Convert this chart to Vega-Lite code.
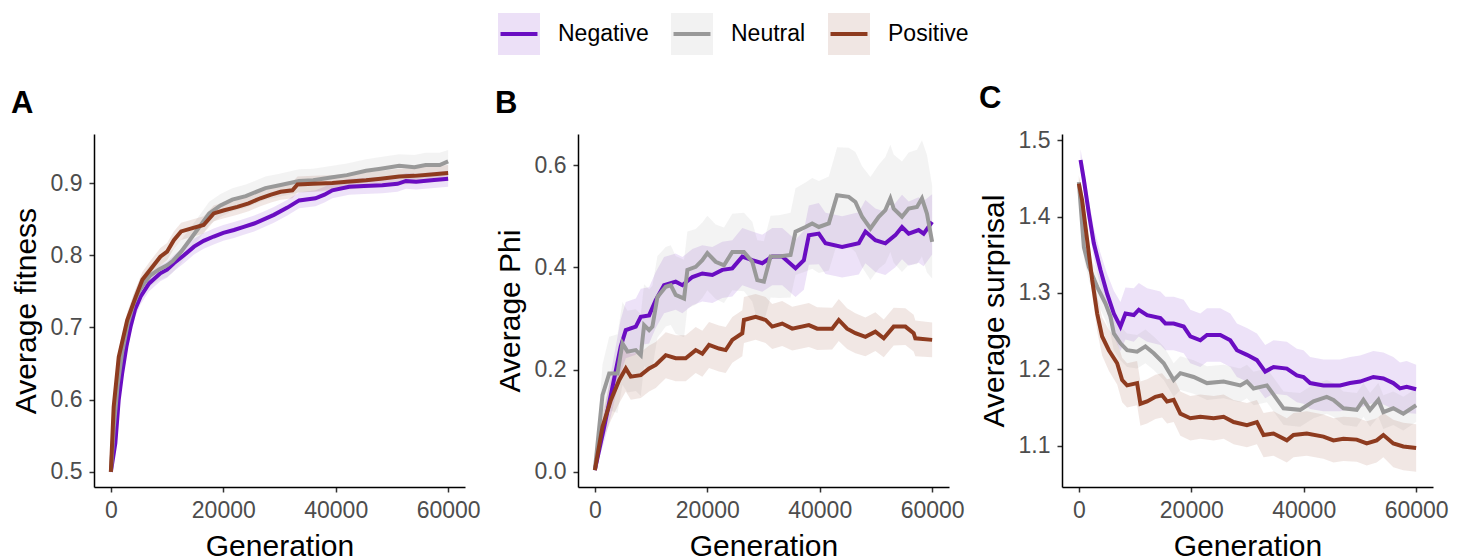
{
  "$schema": "https://vega.github.io/schema/vega-lite/v6.json",
  "background": "white",
  "padding": {"left": 11, "top": 11, "right": 10, "bottom": 0},
  "config": {
    "font": "Liberation Sans",
    "view": {"stroke": null},
    "axis": {
      "grid": false,
      "domainColor": "#000000",
      "domainWidth": 1.5,
      "tickColor": "#333333",
      "tickWidth": 1.5,
      "tickSize": 5,
      "labelFont": "Liberation Sans",
      "labelFontSize": 23,
      "labelColor": "#4D4D4D",
      "labelPadding": 7,
      "titleFont": "Liberation Sans",
      "titleFontSize": 30,
      "titleFontWeight": "normal",
      "titleColor": "#000000",
      "titlePadding": 9
    },
    "legend": {
      "labelFont": "Liberation Sans",
      "labelFontSize": 23,
      "labelColor": "#000000"
    }
  },
  "spacing": 14,
  "data": {
    "values": [
      {"p":"A","g":"Negative","x":0,"y":0.500,"lo":0.497,"hi":0.503},
      {"p":"A","g":"Negative","x":800,"y":0.540,"lo":0.530,"hi":0.550},
      {"p":"A","g":"Negative","x":1400,"y":0.600,"lo":0.588,"hi":0.612},
      {"p":"A","g":"Negative","x":2000,"y":0.636,"lo":0.624,"hi":0.648},
      {"p":"A","g":"Negative","x":2800,"y":0.675,"lo":0.663,"hi":0.687},
      {"p":"A","g":"Negative","x":3500,"y":0.701,"lo":0.690,"hi":0.712},
      {"p":"A","g":"Negative","x":4300,"y":0.725,"lo":0.714,"hi":0.736},
      {"p":"A","g":"Negative","x":5300,"y":0.743,"lo":0.732,"hi":0.754},
      {"p":"A","g":"Negative","x":6800,"y":0.761,"lo":0.750,"hi":0.772},
      {"p":"A","g":"Negative","x":8800,"y":0.775,"lo":0.764,"hi":0.786},
      {"p":"A","g":"Negative","x":10000,"y":0.780,"lo":0.769,"hi":0.791},
      {"p":"A","g":"Negative","x":11200,"y":0.789,"lo":0.778,"hi":0.800},
      {"p":"A","g":"Negative","x":13000,"y":0.800,"lo":0.789,"hi":0.811},
      {"p":"A","g":"Negative","x":14800,"y":0.812,"lo":0.801,"hi":0.823},
      {"p":"A","g":"Negative","x":16500,"y":0.820,"lo":0.809,"hi":0.831},
      {"p":"A","g":"Negative","x":18300,"y":0.826,"lo":0.815,"hi":0.837},
      {"p":"A","g":"Negative","x":20000,"y":0.831,"lo":0.820,"hi":0.842},
      {"p":"A","g":"Negative","x":21900,"y":0.835,"lo":0.824,"hi":0.846},
      {"p":"A","g":"Negative","x":23500,"y":0.839,"lo":0.828,"hi":0.850},
      {"p":"A","g":"Negative","x":25500,"y":0.844,"lo":0.833,"hi":0.855},
      {"p":"A","g":"Negative","x":27000,"y":0.849,"lo":0.838,"hi":0.860},
      {"p":"A","g":"Negative","x":29000,"y":0.856,"lo":0.845,"hi":0.867},
      {"p":"A","g":"Negative","x":31400,"y":0.866,"lo":0.855,"hi":0.877},
      {"p":"A","g":"Negative","x":33500,"y":0.876,"lo":0.865,"hi":0.887},
      {"p":"A","g":"Negative","x":36400,"y":0.879,"lo":0.868,"hi":0.890},
      {"p":"A","g":"Negative","x":38000,"y":0.884,"lo":0.873,"hi":0.895},
      {"p":"A","g":"Negative","x":39400,"y":0.890,"lo":0.879,"hi":0.901},
      {"p":"A","g":"Negative","x":42400,"y":0.895,"lo":0.884,"hi":0.906},
      {"p":"A","g":"Negative","x":45000,"y":0.896,"lo":0.885,"hi":0.907},
      {"p":"A","g":"Negative","x":48300,"y":0.897,"lo":0.886,"hi":0.908},
      {"p":"A","g":"Negative","x":51000,"y":0.899,"lo":0.888,"hi":0.910},
      {"p":"A","g":"Negative","x":52500,"y":0.903,"lo":0.892,"hi":0.914},
      {"p":"A","g":"Negative","x":54300,"y":0.902,"lo":0.891,"hi":0.913},
      {"p":"A","g":"Negative","x":57000,"y":0.904,"lo":0.893,"hi":0.915},
      {"p":"A","g":"Negative","x":60000,"y":0.906,"lo":0.895,"hi":0.917},

      {"p":"A","g":"Neutral","x":0,"y":0.500,"lo":0.496,"hi":0.504},
      {"p":"A","g":"Neutral","x":500,"y":0.560,"lo":0.548,"hi":0.572},
      {"p":"A","g":"Neutral","x":1200,"y":0.620,"lo":0.606,"hi":0.634},
      {"p":"A","g":"Neutral","x":2000,"y":0.665,"lo":0.651,"hi":0.679},
      {"p":"A","g":"Neutral","x":3000,"y":0.705,"lo":0.691,"hi":0.719},
      {"p":"A","g":"Neutral","x":4000,"y":0.732,"lo":0.718,"hi":0.746},
      {"p":"A","g":"Neutral","x":5000,"y":0.750,"lo":0.736,"hi":0.764},
      {"p":"A","g":"Neutral","x":6000,"y":0.762,"lo":0.748,"hi":0.776},
      {"p":"A","g":"Neutral","x":7000,"y":0.772,"lo":0.757,"hi":0.787},
      {"p":"A","g":"Neutral","x":8500,"y":0.780,"lo":0.765,"hi":0.795},
      {"p":"A","g":"Neutral","x":10000,"y":0.786,"lo":0.770,"hi":0.802},
      {"p":"A","g":"Neutral","x":11000,"y":0.792,"lo":0.776,"hi":0.808},
      {"p":"A","g":"Neutral","x":12500,"y":0.805,"lo":0.789,"hi":0.821},
      {"p":"A","g":"Neutral","x":14500,"y":0.826,"lo":0.810,"hi":0.842},
      {"p":"A","g":"Neutral","x":16000,"y":0.842,"lo":0.826,"hi":0.858},
      {"p":"A","g":"Neutral","x":17500,"y":0.858,"lo":0.842,"hi":0.874},
      {"p":"A","g":"Neutral","x":19500,"y":0.869,"lo":0.853,"hi":0.885},
      {"p":"A","g":"Neutral","x":21600,"y":0.877,"lo":0.861,"hi":0.893},
      {"p":"A","g":"Neutral","x":24000,"y":0.882,"lo":0.866,"hi":0.898},
      {"p":"A","g":"Neutral","x":27500,"y":0.893,"lo":0.877,"hi":0.909},
      {"p":"A","g":"Neutral","x":30000,"y":0.897,"lo":0.881,"hi":0.913},
      {"p":"A","g":"Neutral","x":33500,"y":0.903,"lo":0.887,"hi":0.919},
      {"p":"A","g":"Neutral","x":36000,"y":0.904,"lo":0.888,"hi":0.920},
      {"p":"A","g":"Neutral","x":39400,"y":0.908,"lo":0.892,"hi":0.924},
      {"p":"A","g":"Neutral","x":42000,"y":0.911,"lo":0.895,"hi":0.927},
      {"p":"A","g":"Neutral","x":45400,"y":0.917,"lo":0.901,"hi":0.933},
      {"p":"A","g":"Neutral","x":48000,"y":0.920,"lo":0.904,"hi":0.936},
      {"p":"A","g":"Neutral","x":51300,"y":0.924,"lo":0.908,"hi":0.940},
      {"p":"A","g":"Neutral","x":54000,"y":0.922,"lo":0.905,"hi":0.939},
      {"p":"A","g":"Neutral","x":56000,"y":0.925,"lo":0.908,"hi":0.942},
      {"p":"A","g":"Neutral","x":58500,"y":0.925,"lo":0.908,"hi":0.942},
      {"p":"A","g":"Neutral","x":60000,"y":0.930,"lo":0.913,"hi":0.946},

      {"p":"A","g":"Positive","x":0,"y":0.500,"lo":0.497,"hi":0.503},
      {"p":"A","g":"Positive","x":500,"y":0.590,"lo":0.580,"hi":0.600},
      {"p":"A","g":"Positive","x":1400,"y":0.659,"lo":0.648,"hi":0.670},
      {"p":"A","g":"Positive","x":2900,"y":0.710,"lo":0.699,"hi":0.721},
      {"p":"A","g":"Positive","x":4400,"y":0.742,"lo":0.731,"hi":0.753},
      {"p":"A","g":"Positive","x":5600,"y":0.766,"lo":0.755,"hi":0.777},
      {"p":"A","g":"Positive","x":7000,"y":0.780,"lo":0.768,"hi":0.792},
      {"p":"A","g":"Positive","x":8800,"y":0.798,"lo":0.786,"hi":0.810},
      {"p":"A","g":"Positive","x":10000,"y":0.805,"lo":0.793,"hi":0.817},
      {"p":"A","g":"Positive","x":11200,"y":0.821,"lo":0.809,"hi":0.833},
      {"p":"A","g":"Positive","x":12500,"y":0.833,"lo":0.821,"hi":0.845},
      {"p":"A","g":"Positive","x":14200,"y":0.837,"lo":0.825,"hi":0.849},
      {"p":"A","g":"Positive","x":16500,"y":0.842,"lo":0.830,"hi":0.854},
      {"p":"A","g":"Positive","x":18300,"y":0.858,"lo":0.847,"hi":0.869},
      {"p":"A","g":"Positive","x":20000,"y":0.862,"lo":0.851,"hi":0.873},
      {"p":"A","g":"Positive","x":22500,"y":0.867,"lo":0.856,"hi":0.878},
      {"p":"A","g":"Positive","x":24500,"y":0.872,"lo":0.861,"hi":0.883},
      {"p":"A","g":"Positive","x":26600,"y":0.879,"lo":0.868,"hi":0.890},
      {"p":"A","g":"Positive","x":28500,"y":0.884,"lo":0.873,"hi":0.895},
      {"p":"A","g":"Positive","x":30200,"y":0.888,"lo":0.877,"hi":0.899},
      {"p":"A","g":"Positive","x":32300,"y":0.890,"lo":0.879,"hi":0.901},
      {"p":"A","g":"Positive","x":33200,"y":0.898,"lo":0.887,"hi":0.909},
      {"p":"A","g":"Positive","x":36000,"y":0.899,"lo":0.888,"hi":0.910},
      {"p":"A","g":"Positive","x":39400,"y":0.900,"lo":0.889,"hi":0.911},
      {"p":"A","g":"Positive","x":42000,"y":0.902,"lo":0.891,"hi":0.913},
      {"p":"A","g":"Positive","x":45400,"y":0.904,"lo":0.893,"hi":0.915},
      {"p":"A","g":"Positive","x":48000,"y":0.906,"lo":0.895,"hi":0.917},
      {"p":"A","g":"Positive","x":51300,"y":0.909,"lo":0.898,"hi":0.920},
      {"p":"A","g":"Positive","x":54000,"y":0.910,"lo":0.899,"hi":0.921},
      {"p":"A","g":"Positive","x":57000,"y":0.912,"lo":0.901,"hi":0.923},
      {"p":"A","g":"Positive","x":60000,"y":0.914,"lo":0.903,"hi":0.925},

      {"p":"B","g":"Negative","x":0,"y":0.003,"lo":0.000,"hi":0.006},
      {"p":"B","g":"Negative","x":1660,"y":0.088,"lo":0.058,"hi":0.118},
      {"p":"B","g":"Negative","x":3140,"y":0.166,"lo":0.121,"hi":0.211},
      {"p":"B","g":"Negative","x":4600,"y":0.245,"lo":0.192,"hi":0.298},
      {"p":"B","g":"Negative","x":5500,"y":0.277,"lo":0.222,"hi":0.332},
      {"p":"B","g":"Negative","x":7280,"y":0.284,"lo":0.229,"hi":0.339},
      {"p":"B","g":"Negative","x":8170,"y":0.303,"lo":0.248,"hi":0.358},
      {"p":"B","g":"Negative","x":9650,"y":0.306,"lo":0.251,"hi":0.361},
      {"p":"B","g":"Negative","x":10830,"y":0.336,"lo":0.281,"hi":0.391},
      {"p":"B","g":"Negative","x":12310,"y":0.365,"lo":0.310,"hi":0.420},
      {"p":"B","g":"Negative","x":14380,"y":0.372,"lo":0.317,"hi":0.427},
      {"p":"B","g":"Negative","x":15570,"y":0.365,"lo":0.310,"hi":0.420},
      {"p":"B","g":"Negative","x":17350,"y":0.381,"lo":0.326,"hi":0.436},
      {"p":"B","g":"Negative","x":19120,"y":0.388,"lo":0.333,"hi":0.443},
      {"p":"B","g":"Negative","x":20900,"y":0.385,"lo":0.330,"hi":0.440},
      {"p":"B","g":"Negative","x":22670,"y":0.395,"lo":0.340,"hi":0.450},
      {"p":"B","g":"Negative","x":24450,"y":0.398,"lo":0.343,"hi":0.453},
      {"p":"B","g":"Negative","x":26230,"y":0.421,"lo":0.365,"hi":0.477},
      {"p":"B","g":"Negative","x":28000,"y":0.414,"lo":0.358,"hi":0.470},
      {"p":"B","g":"Negative","x":29780,"y":0.408,"lo":0.352,"hi":0.464},
      {"p":"B","g":"Negative","x":31550,"y":0.421,"lo":0.365,"hi":0.477},
      {"p":"B","g":"Negative","x":33330,"y":0.421,"lo":0.365,"hi":0.477},
      {"p":"B","g":"Negative","x":35700,"y":0.398,"lo":0.342,"hi":0.454},
      {"p":"B","g":"Negative","x":37180,"y":0.414,"lo":0.356,"hi":0.472},
      {"p":"B","g":"Negative","x":38070,"y":0.463,"lo":0.405,"hi":0.521},
      {"p":"B","g":"Negative","x":39840,"y":0.466,"lo":0.406,"hi":0.526},
      {"p":"B","g":"Negative","x":41030,"y":0.447,"lo":0.387,"hi":0.507},
      {"p":"B","g":"Negative","x":43990,"y":0.440,"lo":0.380,"hi":0.500},
      {"p":"B","g":"Negative","x":46950,"y":0.447,"lo":0.386,"hi":0.508},
      {"p":"B","g":"Negative","x":48130,"y":0.470,"lo":0.408,"hi":0.532},
      {"p":"B","g":"Negative","x":49900,"y":0.453,"lo":0.391,"hi":0.515},
      {"p":"B","g":"Negative","x":51680,"y":0.447,"lo":0.385,"hi":0.509},
      {"p":"B","g":"Negative","x":53460,"y":0.463,"lo":0.400,"hi":0.526},
      {"p":"B","g":"Negative","x":54640,"y":0.479,"lo":0.416,"hi":0.542},
      {"p":"B","g":"Negative","x":55830,"y":0.466,"lo":0.403,"hi":0.529},
      {"p":"B","g":"Negative","x":57600,"y":0.473,"lo":0.409,"hi":0.537},
      {"p":"B","g":"Negative","x":58490,"y":0.466,"lo":0.402,"hi":0.530},
      {"p":"B","g":"Negative","x":60000,"y":0.489,"lo":0.425,"hi":0.543},

      {"p":"B","g":"Neutral","x":0,"y":0.003,"lo":0.000,"hi":0.006},
      {"p":"B","g":"Neutral","x":1360,"y":0.150,"lo":0.090,"hi":0.210},
      {"p":"B","g":"Neutral","x":2550,"y":0.192,"lo":0.120,"hi":0.264},
      {"p":"B","g":"Neutral","x":4030,"y":0.192,"lo":0.115,"hi":0.269},
      {"p":"B","g":"Neutral","x":4910,"y":0.251,"lo":0.170,"hi":0.332},
      {"p":"B","g":"Neutral","x":5800,"y":0.235,"lo":0.155,"hi":0.315},
      {"p":"B","g":"Neutral","x":7280,"y":0.238,"lo":0.158,"hi":0.318},
      {"p":"B","g":"Neutral","x":8170,"y":0.228,"lo":0.148,"hi":0.308},
      {"p":"B","g":"Neutral","x":8760,"y":0.287,"lo":0.207,"hi":0.367},
      {"p":"B","g":"Neutral","x":9650,"y":0.277,"lo":0.197,"hi":0.357},
      {"p":"B","g":"Neutral","x":10240,"y":0.284,"lo":0.204,"hi":0.364},
      {"p":"B","g":"Neutral","x":11130,"y":0.342,"lo":0.262,"hi":0.422},
      {"p":"B","g":"Neutral","x":12610,"y":0.362,"lo":0.284,"hi":0.440},
      {"p":"B","g":"Neutral","x":13500,"y":0.365,"lo":0.287,"hi":0.443},
      {"p":"B","g":"Neutral","x":14380,"y":0.346,"lo":0.270,"hi":0.422},
      {"p":"B","g":"Neutral","x":15870,"y":0.339,"lo":0.263,"hi":0.415},
      {"p":"B","g":"Neutral","x":16460,"y":0.395,"lo":0.320,"hi":0.470},
      {"p":"B","g":"Neutral","x":17940,"y":0.401,"lo":0.327,"hi":0.475},
      {"p":"B","g":"Neutral","x":19120,"y":0.414,"lo":0.340,"hi":0.488},
      {"p":"B","g":"Neutral","x":20010,"y":0.428,"lo":0.355,"hi":0.501},
      {"p":"B","g":"Neutral","x":21490,"y":0.411,"lo":0.338,"hi":0.484},
      {"p":"B","g":"Neutral","x":22970,"y":0.404,"lo":0.330,"hi":0.478},
      {"p":"B","g":"Neutral","x":24450,"y":0.430,"lo":0.355,"hi":0.505},
      {"p":"B","g":"Neutral","x":26520,"y":0.430,"lo":0.353,"hi":0.507},
      {"p":"B","g":"Neutral","x":28000,"y":0.411,"lo":0.333,"hi":0.489},
      {"p":"B","g":"Neutral","x":28890,"y":0.375,"lo":0.297,"hi":0.453},
      {"p":"B","g":"Neutral","x":30070,"y":0.372,"lo":0.293,"hi":0.451},
      {"p":"B","g":"Neutral","x":31260,"y":0.421,"lo":0.341,"hi":0.501},
      {"p":"B","g":"Neutral","x":32740,"y":0.421,"lo":0.340,"hi":0.502},
      {"p":"B","g":"Neutral","x":34810,"y":0.424,"lo":0.341,"hi":0.507},
      {"p":"B","g":"Neutral","x":35700,"y":0.470,"lo":0.385,"hi":0.555},
      {"p":"B","g":"Neutral","x":37470,"y":0.479,"lo":0.392,"hi":0.566},
      {"p":"B","g":"Neutral","x":38660,"y":0.486,"lo":0.397,"hi":0.575},
      {"p":"B","g":"Neutral","x":39840,"y":0.479,"lo":0.389,"hi":0.569},
      {"p":"B","g":"Neutral","x":41620,"y":0.486,"lo":0.394,"hi":0.578},
      {"p":"B","g":"Neutral","x":43100,"y":0.541,"lo":0.447,"hi":0.635},
      {"p":"B","g":"Neutral","x":45170,"y":0.538,"lo":0.442,"hi":0.634},
      {"p":"B","g":"Neutral","x":46350,"y":0.528,"lo":0.430,"hi":0.626},
      {"p":"B","g":"Neutral","x":47540,"y":0.499,"lo":0.400,"hi":0.598},
      {"p":"B","g":"Neutral","x":49020,"y":0.476,"lo":0.375,"hi":0.577},
      {"p":"B","g":"Neutral","x":50500,"y":0.499,"lo":0.397,"hi":0.601},
      {"p":"B","g":"Neutral","x":51680,"y":0.512,"lo":0.408,"hi":0.616},
      {"p":"B","g":"Neutral","x":52570,"y":0.535,"lo":0.430,"hi":0.640},
      {"p":"B","g":"Neutral","x":53160,"y":0.515,"lo":0.409,"hi":0.621},
      {"p":"B","g":"Neutral","x":54640,"y":0.499,"lo":0.391,"hi":0.607},
      {"p":"B","g":"Neutral","x":55830,"y":0.515,"lo":0.405,"hi":0.625},
      {"p":"B","g":"Neutral","x":57300,"y":0.518,"lo":0.406,"hi":0.630},
      {"p":"B","g":"Neutral","x":58190,"y":0.535,"lo":0.421,"hi":0.649},
      {"p":"B","g":"Neutral","x":59080,"y":0.505,"lo":0.390,"hi":0.620},
      {"p":"B","g":"Neutral","x":60000,"y":0.450,"lo":0.378,"hi":0.560},

      {"p":"B","g":"Positive","x":0,"y":0.003,"lo":0.000,"hi":0.006},
      {"p":"B","g":"Positive","x":1360,"y":0.088,"lo":0.060,"hi":0.116},
      {"p":"B","g":"Positive","x":2840,"y":0.140,"lo":0.100,"hi":0.180},
      {"p":"B","g":"Positive","x":4320,"y":0.179,"lo":0.134,"hi":0.224},
      {"p":"B","g":"Positive","x":5500,"y":0.202,"lo":0.157,"hi":0.247},
      {"p":"B","g":"Positive","x":6390,"y":0.186,"lo":0.141,"hi":0.231},
      {"p":"B","g":"Positive","x":8170,"y":0.189,"lo":0.144,"hi":0.234},
      {"p":"B","g":"Positive","x":9650,"y":0.202,"lo":0.157,"hi":0.247},
      {"p":"B","g":"Positive","x":10830,"y":0.209,"lo":0.164,"hi":0.254},
      {"p":"B","g":"Positive","x":12610,"y":0.228,"lo":0.183,"hi":0.273},
      {"p":"B","g":"Positive","x":14380,"y":0.222,"lo":0.177,"hi":0.267},
      {"p":"B","g":"Positive","x":16160,"y":0.222,"lo":0.177,"hi":0.267},
      {"p":"B","g":"Positive","x":17940,"y":0.238,"lo":0.193,"hi":0.283},
      {"p":"B","g":"Positive","x":19120,"y":0.231,"lo":0.186,"hi":0.276},
      {"p":"B","g":"Positive","x":20310,"y":0.248,"lo":0.203,"hi":0.293},
      {"p":"B","g":"Positive","x":22080,"y":0.241,"lo":0.196,"hi":0.286},
      {"p":"B","g":"Positive","x":23270,"y":0.238,"lo":0.193,"hi":0.283},
      {"p":"B","g":"Positive","x":24450,"y":0.258,"lo":0.213,"hi":0.303},
      {"p":"B","g":"Positive","x":26230,"y":0.271,"lo":0.226,"hi":0.316},
      {"p":"B","g":"Positive","x":26520,"y":0.297,"lo":0.252,"hi":0.342},
      {"p":"B","g":"Positive","x":28600,"y":0.303,"lo":0.258,"hi":0.348},
      {"p":"B","g":"Positive","x":30370,"y":0.297,"lo":0.252,"hi":0.342},
      {"p":"B","g":"Positive","x":31550,"y":0.284,"lo":0.240,"hi":0.328},
      {"p":"B","g":"Positive","x":33330,"y":0.290,"lo":0.246,"hi":0.334},
      {"p":"B","g":"Positive","x":35110,"y":0.280,"lo":0.237,"hi":0.323},
      {"p":"B","g":"Positive","x":38070,"y":0.287,"lo":0.244,"hi":0.330},
      {"p":"B","g":"Positive","x":39550,"y":0.280,"lo":0.238,"hi":0.322},
      {"p":"B","g":"Positive","x":42210,"y":0.280,"lo":0.239,"hi":0.321},
      {"p":"B","g":"Positive","x":43390,"y":0.297,"lo":0.256,"hi":0.338},
      {"p":"B","g":"Positive","x":44870,"y":0.280,"lo":0.240,"hi":0.320},
      {"p":"B","g":"Positive","x":46350,"y":0.271,"lo":0.232,"hi":0.310},
      {"p":"B","g":"Positive","x":48130,"y":0.264,"lo":0.226,"hi":0.302},
      {"p":"B","g":"Positive","x":49900,"y":0.274,"lo":0.236,"hi":0.312},
      {"p":"B","g":"Positive","x":51390,"y":0.261,"lo":0.224,"hi":0.298},
      {"p":"B","g":"Positive","x":53160,"y":0.284,"lo":0.247,"hi":0.321},
      {"p":"B","g":"Positive","x":55240,"y":0.284,"lo":0.248,"hi":0.320},
      {"p":"B","g":"Positive","x":56710,"y":0.271,"lo":0.235,"hi":0.307},
      {"p":"B","g":"Positive","x":57010,"y":0.261,"lo":0.226,"hi":0.296},
      {"p":"B","g":"Positive","x":60000,"y":0.258,"lo":0.224,"hi":0.292},

      {"p":"C","g":"Negative","x":300,"y":1.474,"lo":1.460,"hi":1.488},
      {"p":"C","g":"Negative","x":890,"y":1.448,"lo":1.432,"hi":1.464},
      {"p":"C","g":"Negative","x":1780,"y":1.404,"lo":1.386,"hi":1.422},
      {"p":"C","g":"Negative","x":2660,"y":1.365,"lo":1.345,"hi":1.385},
      {"p":"C","g":"Negative","x":3850,"y":1.330,"lo":1.308,"hi":1.352},
      {"p":"C","g":"Negative","x":5030,"y":1.299,"lo":1.273,"hi":1.325},
      {"p":"C","g":"Negative","x":6220,"y":1.273,"lo":1.243,"hi":1.303},
      {"p":"C","g":"Negative","x":7400,"y":1.256,"lo":1.224,"hi":1.288},
      {"p":"C","g":"Negative","x":8290,"y":1.273,"lo":1.239,"hi":1.307},
      {"p":"C","g":"Negative","x":9770,"y":1.271,"lo":1.236,"hi":1.306},
      {"p":"C","g":"Negative","x":10660,"y":1.278,"lo":1.243,"hi":1.313},
      {"p":"C","g":"Negative","x":12140,"y":1.271,"lo":1.236,"hi":1.306},
      {"p":"C","g":"Negative","x":14500,"y":1.267,"lo":1.232,"hi":1.302},
      {"p":"C","g":"Negative","x":15390,"y":1.260,"lo":1.225,"hi":1.295},
      {"p":"C","g":"Negative","x":16870,"y":1.260,"lo":1.225,"hi":1.295},
      {"p":"C","g":"Negative","x":18650,"y":1.256,"lo":1.221,"hi":1.291},
      {"p":"C","g":"Negative","x":19830,"y":1.243,"lo":1.208,"hi":1.278},
      {"p":"C","g":"Negative","x":21610,"y":1.238,"lo":1.203,"hi":1.273},
      {"p":"C","g":"Negative","x":22790,"y":1.245,"lo":1.210,"hi":1.280},
      {"p":"C","g":"Negative","x":25160,"y":1.245,"lo":1.210,"hi":1.280},
      {"p":"C","g":"Negative","x":26940,"y":1.238,"lo":1.203,"hi":1.273},
      {"p":"C","g":"Negative","x":28120,"y":1.225,"lo":1.190,"hi":1.260},
      {"p":"C","g":"Negative","x":29900,"y":1.219,"lo":1.184,"hi":1.254},
      {"p":"C","g":"Negative","x":31670,"y":1.212,"lo":1.177,"hi":1.247},
      {"p":"C","g":"Negative","x":33150,"y":1.197,"lo":1.162,"hi":1.232},
      {"p":"C","g":"Negative","x":34630,"y":1.203,"lo":1.168,"hi":1.238},
      {"p":"C","g":"Negative","x":37000,"y":1.201,"lo":1.166,"hi":1.236},
      {"p":"C","g":"Negative","x":38780,"y":1.192,"lo":1.157,"hi":1.227},
      {"p":"C","g":"Negative","x":39960,"y":1.190,"lo":1.155,"hi":1.225},
      {"p":"C","g":"Negative","x":41140,"y":1.182,"lo":1.148,"hi":1.216},
      {"p":"C","g":"Negative","x":43510,"y":1.179,"lo":1.145,"hi":1.213},
      {"p":"C","g":"Negative","x":46470,"y":1.179,"lo":1.145,"hi":1.213},
      {"p":"C","g":"Negative","x":48250,"y":1.182,"lo":1.148,"hi":1.216},
      {"p":"C","g":"Negative","x":50020,"y":1.184,"lo":1.150,"hi":1.218},
      {"p":"C","g":"Negative","x":52390,"y":1.190,"lo":1.156,"hi":1.224},
      {"p":"C","g":"Negative","x":54170,"y":1.188,"lo":1.154,"hi":1.222},
      {"p":"C","g":"Negative","x":55940,"y":1.182,"lo":1.148,"hi":1.216},
      {"p":"C","g":"Negative","x":57130,"y":1.175,"lo":1.141,"hi":1.209},
      {"p":"C","g":"Negative","x":58310,"y":1.177,"lo":1.143,"hi":1.211},
      {"p":"C","g":"Negative","x":60000,"y":1.174,"lo":1.142,"hi":1.206},

      {"p":"C","g":"Neutral","x":0,"y":1.445,"lo":1.435,"hi":1.455},
      {"p":"C","g":"Neutral","x":890,"y":1.360,"lo":1.345,"hi":1.375},
      {"p":"C","g":"Neutral","x":1780,"y":1.334,"lo":1.316,"hi":1.352},
      {"p":"C","g":"Neutral","x":3260,"y":1.308,"lo":1.288,"hi":1.328},
      {"p":"C","g":"Neutral","x":4740,"y":1.286,"lo":1.264,"hi":1.308},
      {"p":"C","g":"Neutral","x":5620,"y":1.269,"lo":1.247,"hi":1.291},
      {"p":"C","g":"Neutral","x":6220,"y":1.247,"lo":1.225,"hi":1.269},
      {"p":"C","g":"Neutral","x":7400,"y":1.234,"lo":1.212,"hi":1.256},
      {"p":"C","g":"Neutral","x":8580,"y":1.225,"lo":1.203,"hi":1.247},
      {"p":"C","g":"Neutral","x":10360,"y":1.223,"lo":1.201,"hi":1.245},
      {"p":"C","g":"Neutral","x":11840,"y":1.230,"lo":1.208,"hi":1.252},
      {"p":"C","g":"Neutral","x":13320,"y":1.221,"lo":1.199,"hi":1.243},
      {"p":"C","g":"Neutral","x":15100,"y":1.208,"lo":1.186,"hi":1.230},
      {"p":"C","g":"Neutral","x":16870,"y":1.186,"lo":1.164,"hi":1.208},
      {"p":"C","g":"Neutral","x":18060,"y":1.195,"lo":1.173,"hi":1.217},
      {"p":"C","g":"Neutral","x":20420,"y":1.190,"lo":1.168,"hi":1.212},
      {"p":"C","g":"Neutral","x":22790,"y":1.182,"lo":1.160,"hi":1.204},
      {"p":"C","g":"Neutral","x":25750,"y":1.184,"lo":1.162,"hi":1.206},
      {"p":"C","g":"Neutral","x":28710,"y":1.179,"lo":1.157,"hi":1.201},
      {"p":"C","g":"Neutral","x":29900,"y":1.184,"lo":1.162,"hi":1.206},
      {"p":"C","g":"Neutral","x":31080,"y":1.175,"lo":1.153,"hi":1.197},
      {"p":"C","g":"Neutral","x":33450,"y":1.179,"lo":1.157,"hi":1.201},
      {"p":"C","g":"Neutral","x":34930,"y":1.164,"lo":1.142,"hi":1.186},
      {"p":"C","g":"Neutral","x":36410,"y":1.149,"lo":1.127,"hi":1.171},
      {"p":"C","g":"Neutral","x":39370,"y":1.147,"lo":1.125,"hi":1.169},
      {"p":"C","g":"Neutral","x":41740,"y":1.158,"lo":1.136,"hi":1.180},
      {"p":"C","g":"Neutral","x":44100,"y":1.164,"lo":1.142,"hi":1.186},
      {"p":"C","g":"Neutral","x":45290,"y":1.160,"lo":1.138,"hi":1.182},
      {"p":"C","g":"Neutral","x":47060,"y":1.149,"lo":1.127,"hi":1.171},
      {"p":"C","g":"Neutral","x":49430,"y":1.147,"lo":1.125,"hi":1.169},
      {"p":"C","g":"Neutral","x":50620,"y":1.160,"lo":1.138,"hi":1.182},
      {"p":"C","g":"Neutral","x":51800,"y":1.147,"lo":1.125,"hi":1.169},
      {"p":"C","g":"Neutral","x":53280,"y":1.160,"lo":1.138,"hi":1.182},
      {"p":"C","g":"Neutral","x":54170,"y":1.144,"lo":1.122,"hi":1.166},
      {"p":"C","g":"Neutral","x":55940,"y":1.149,"lo":1.127,"hi":1.171},
      {"p":"C","g":"Neutral","x":57720,"y":1.142,"lo":1.120,"hi":1.164},
      {"p":"C","g":"Neutral","x":60000,"y":1.153,"lo":1.131,"hi":1.175},

      {"p":"C","g":"Positive","x":0,"y":1.443,"lo":1.433,"hi":1.453},
      {"p":"C","g":"Positive","x":590,"y":1.421,"lo":1.408,"hi":1.434},
      {"p":"C","g":"Positive","x":1480,"y":1.369,"lo":1.352,"hi":1.386},
      {"p":"C","g":"Positive","x":2370,"y":1.317,"lo":1.297,"hi":1.337},
      {"p":"C","g":"Positive","x":3260,"y":1.273,"lo":1.250,"hi":1.296},
      {"p":"C","g":"Positive","x":4140,"y":1.243,"lo":1.218,"hi":1.268},
      {"p":"C","g":"Positive","x":5330,"y":1.225,"lo":1.198,"hi":1.252},
      {"p":"C","g":"Positive","x":6810,"y":1.208,"lo":1.180,"hi":1.236},
      {"p":"C","g":"Positive","x":7700,"y":1.186,"lo":1.157,"hi":1.215},
      {"p":"C","g":"Positive","x":8580,"y":1.179,"lo":1.150,"hi":1.208},
      {"p":"C","g":"Positive","x":10360,"y":1.182,"lo":1.153,"hi":1.211},
      {"p":"C","g":"Positive","x":10950,"y":1.155,"lo":1.126,"hi":1.184},
      {"p":"C","g":"Positive","x":12140,"y":1.158,"lo":1.129,"hi":1.187},
      {"p":"C","g":"Positive","x":13620,"y":1.164,"lo":1.135,"hi":1.193},
      {"p":"C","g":"Positive","x":14800,"y":1.166,"lo":1.137,"hi":1.195},
      {"p":"C","g":"Positive","x":15690,"y":1.158,"lo":1.129,"hi":1.187},
      {"p":"C","g":"Positive","x":16870,"y":1.160,"lo":1.131,"hi":1.189},
      {"p":"C","g":"Positive","x":18060,"y":1.142,"lo":1.113,"hi":1.171},
      {"p":"C","g":"Positive","x":19830,"y":1.136,"lo":1.107,"hi":1.165},
      {"p":"C","g":"Positive","x":21610,"y":1.138,"lo":1.109,"hi":1.167},
      {"p":"C","g":"Positive","x":23980,"y":1.136,"lo":1.107,"hi":1.165},
      {"p":"C","g":"Positive","x":25750,"y":1.138,"lo":1.109,"hi":1.167},
      {"p":"C","g":"Positive","x":27530,"y":1.131,"lo":1.102,"hi":1.160},
      {"p":"C","g":"Positive","x":29900,"y":1.127,"lo":1.098,"hi":1.156},
      {"p":"C","g":"Positive","x":31670,"y":1.131,"lo":1.102,"hi":1.160},
      {"p":"C","g":"Positive","x":32860,"y":1.114,"lo":1.085,"hi":1.143},
      {"p":"C","g":"Positive","x":34630,"y":1.116,"lo":1.087,"hi":1.145},
      {"p":"C","g":"Positive","x":37000,"y":1.107,"lo":1.078,"hi":1.136},
      {"p":"C","g":"Positive","x":38180,"y":1.114,"lo":1.085,"hi":1.143},
      {"p":"C","g":"Positive","x":40550,"y":1.116,"lo":1.087,"hi":1.145},
      {"p":"C","g":"Positive","x":43510,"y":1.112,"lo":1.083,"hi":1.141},
      {"p":"C","g":"Positive","x":45290,"y":1.107,"lo":1.078,"hi":1.136},
      {"p":"C","g":"Positive","x":47060,"y":1.109,"lo":1.080,"hi":1.138},
      {"p":"C","g":"Positive","x":49430,"y":1.108,"lo":1.079,"hi":1.137},
      {"p":"C","g":"Positive","x":51210,"y":1.103,"lo":1.074,"hi":1.132},
      {"p":"C","g":"Positive","x":52980,"y":1.107,"lo":1.078,"hi":1.136},
      {"p":"C","g":"Positive","x":54170,"y":1.114,"lo":1.085,"hi":1.143},
      {"p":"C","g":"Positive","x":55940,"y":1.103,"lo":1.072,"hi":1.134},
      {"p":"C","g":"Positive","x":57720,"y":1.099,"lo":1.068,"hi":1.130},
      {"p":"C","g":"Positive","x":60000,"y":1.097,"lo":1.066,"hi":1.128}
    ]
  },
  "hconcat": [
    {
      "width": 371, "height": 353,
      "title": {"text": "A", "anchor": "start", "frame": "bounds", "fontSize": 31, "fontWeight": "bold", "font": "Liberation Sans", "color": "#000000", "offset": 14},
      "transform": [{"filter": "datum.p === 'A'"}],
      "layer": [
        {
          "mark": {"type": "area", "opacity": 0.12},
          "encoding": {
            "x": {"field": "x", "type": "quantitative", "scale": {"domain": [-3000, 63000], "nice": false, "zero": false}, "axis": {"values": [0, 20000, 40000, 60000], "format": "d", "title": "Generation", "labelFlush": false}},
            "y": {"field": "lo", "type": "quantitative", "scale": {"domain": [0.479, 0.968], "nice": false, "zero": false}, "axis": {"values": [0.5, 0.6, 0.7, 0.8, 0.9], "format": ".1f", "title": "Average fitness"}},
            "y2": {"field": "hi"},
            "fill": {"field": "g", "type": "nominal", "scale": {"domain": ["Negative", "Neutral", "Positive"], "range": ["#6A0DC2", "#999999", "#8E3B1F"]},
              "legend": {"title": null, "orient": "none", "direction": "horizontal", "legendX": 402, "legendY": -123, "symbolType": "square", "symbolSize": 1764, "symbolStrokeWidth": 4, "symbolStrokeColor": "transparent", "labelOffset": 16, "columnPadding": 14, "padding": 0, "labelFontSize": 23}}
          }
        },
        {
          "mark": {"type": "line", "strokeWidth": 4},
          "encoding": {
            "x": {"field": "x", "type": "quantitative"},
            "y": {"field": "y", "type": "quantitative"},
            "stroke": {"field": "g", "type": "nominal", "scale": {"range": ["#6A0DC2", "#999999", "#8E3B1F"]},
              "legend": {"title": null, "orient": "none", "direction": "horizontal", "legendX": 402, "legendY": -123, "symbolType": "M-1,-1M1,1M-0.88,0H0.88", "symbolSize": 1764, "symbolStrokeWidth": 4, "symbolFillColor": "transparent", "labelOffset": 16, "columnPadding": 14, "padding": 0, "labelFontSize": 23, "labelOpacity": 0}}
          }
        }
      ]
    },
    {
      "width": 371, "height": 353,
      "title": {"text": "B", "anchor": "start", "frame": "bounds", "fontSize": 31, "fontWeight": "bold", "font": "Liberation Sans", "color": "#000000", "offset": 14},
      "transform": [{"filter": "datum.p === 'B'"}],
      "layer": [
        {
          "mark": {"type": "area", "opacity": 0.12},
          "encoding": {
            "x": {"field": "x", "type": "quantitative", "scale": {"domain": [-3000, 63000], "nice": false, "zero": false}, "axis": {"values": [0, 20000, 40000, 60000], "format": "d", "title": "Generation", "labelFlush": false}},
            "y": {"field": "lo", "type": "quantitative", "scale": {"domain": [-0.03, 0.661], "nice": false, "zero": false}, "axis": {"values": [0, 0.2, 0.4, 0.6], "format": ".1f", "title": "Average Phi"}},
            "y2": {"field": "hi"},
            "fill": {"field": "g", "type": "nominal", "scale": {"domain": ["Negative", "Neutral", "Positive"], "range": ["#6A0DC2", "#999999", "#8E3B1F"]}}
          }
        },
        {
          "mark": {"type": "line", "strokeWidth": 4},
          "encoding": {
            "x": {"field": "x", "type": "quantitative"},
            "y": {"field": "y", "type": "quantitative"},
            "stroke": {"field": "g", "type": "nominal", "scale": {"range": ["#6A0DC2", "#999999", "#8E3B1F"]}}
          }
        }
      ]
    },
    {
      "width": 371, "height": 353,
      "title": {"text": "C", "anchor": "start", "frame": "bounds", "fontSize": 31, "fontWeight": "bold", "font": "Liberation Sans", "color": "#000000", "offset": 14},
      "transform": [{"filter": "datum.p === 'C'"}],
      "layer": [
        {
          "mark": {"type": "area", "opacity": 0.12},
          "encoding": {
            "x": {"field": "x", "type": "quantitative", "scale": {"domain": [-3000, 63000], "nice": false, "zero": false}, "axis": {"values": [0, 20000, 40000, 60000], "format": "d", "title": "Generation", "labelFlush": false}},
            "y": {"field": "lo", "type": "quantitative", "scale": {"domain": [1.046, 1.508], "nice": false, "zero": false}, "axis": {"values": [1.1, 1.2, 1.3, 1.4, 1.5], "format": ".1f", "title": "Average surprisal"}},
            "y2": {"field": "hi"},
            "fill": {"field": "g", "type": "nominal", "scale": {"domain": ["Negative", "Neutral", "Positive"], "range": ["#6A0DC2", "#999999", "#8E3B1F"]}}
          }
        },
        {
          "mark": {"type": "line", "strokeWidth": 4},
          "encoding": {
            "x": {"field": "x", "type": "quantitative"},
            "y": {"field": "y", "type": "quantitative"},
            "stroke": {"field": "g", "type": "nominal", "scale": {"range": ["#6A0DC2", "#999999", "#8E3B1F"]}}
          }
        }
      ]
    }
  ]
}
